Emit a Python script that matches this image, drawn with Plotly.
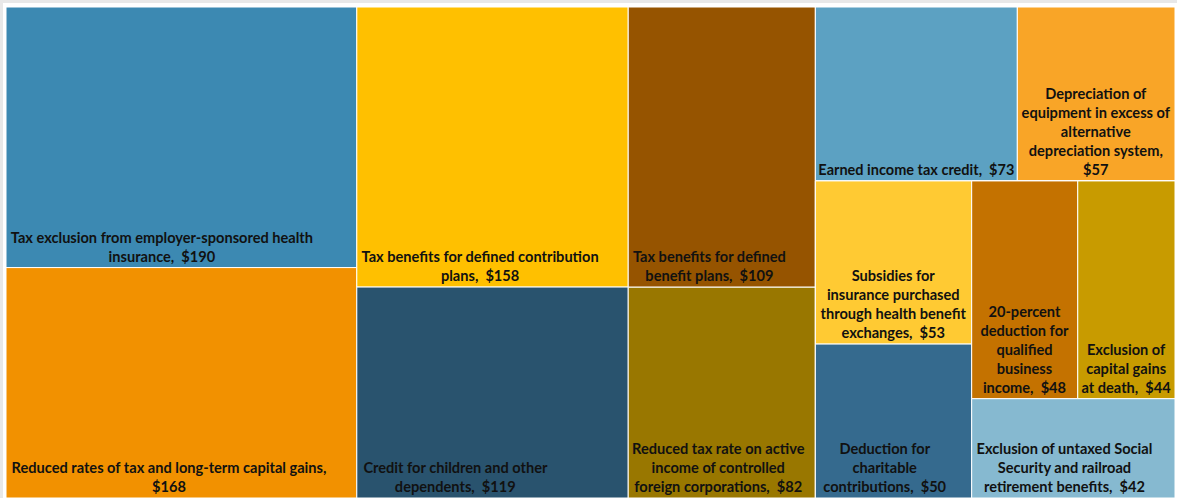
import plotly.graph_objects as go

# ---- data (values in $ billions) ----
categories = [
    "Tax exclusion from employer-sponsored health<br>insurance,",
    "Reduced rates of tax and long-term capital gains,<br>",
    "Tax benefits for defined contribution<br>plans,",
    "Credit for children and other<br>dependents,",
    "Tax benefits for defined<br>benefit plans,",
    "Reduced tax rate on active<br>income of controlled<br>foreign corporations,",
    "Earned income tax credit,",
    "Depreciation of<br>equipment in excess of<br>alternative<br>depreciation system,<br>",
    "Subsidies for<br>insurance purchased<br>through health benefit<br>exchanges,",
    "Deduction for<br>charitable<br>contributions,",
    "20-percent<br>deduction for<br>qualified<br>business<br>income,",
    "Exclusion of<br>capital gains<br>at death,",
    "Exclusion of untaxed Social<br>Security and railroad<br>retirement benefits,",
]
values = [190, 168, 158, 119, 109, 82, 73, 57, 53, 50, 48, 44, 42]
colors = ["#3C89B2", "#F29100", "#FFC000", "#29536E", "#965400", "#997700",
          "#5CA1C2", "#F9A527", "#FFCA33", "#356A8E", "#C47200", "#C89B00", "#86B9D0"]
# invisible trailing padding (non-breaking spaces) that keeps each label block
# toward the left of its tile while its lines stay centred on each other
label_pad = [11, 7, 7, 21, 7, 2, 0, 0, 0, 5, 0, 0, 5]

# layout grouping of the tiles (structure only)
leaf_groups = ["c1", "c1", "c2", "c2", "c3", "c3", "r1", "r1", "k1", "k1", "m1", "m1", "k2"]
group_ids = ["root", "c1", "c2", "c3", "c4", "r1", "r2", "k1", "k2", "m1"]
group_parents = ["", "root", "root", "root", "root", "c4", "c4", "r2", "r2", "k2"]

ids, labels, parents, vals, cols, texts = [], [], [], [], [], []
for g, p in zip(group_ids, group_parents):
    ids.append(g); labels.append(" "); parents.append(p); vals.append(0)
    cols.append("#ffffff"); texts.append("")
for i, (c, v, col, g, n) in enumerate(zip(categories, values, colors, leaf_groups, label_pad)):
    ids.append(f"leaf{i}")
    labels.append(c.replace("<br>", " ").strip())
    parents.append(g)
    vals.append(v)
    cols.append(col)
    sep = "" if c.endswith("<br>") else "\u00a0 "
    raw = f"{c}{sep}${v}"
    pad = "\u00a0" * n
    texts.append("<br>".join(line + pad for line in raw.split("<br>")))

W, H = 1177, 498
ml, mr, mt, mb = 6, 2, 7, 0

fig = go.Figure(go.Treemap(
    ids=ids, labels=labels, parents=parents, values=vals,
    branchvalues="remainder", sort=False,
    text=texts, texttemplate="%{text}", textinfo="text",
    textposition="bottom center",
    textfont=dict(family="Lato", size=14.6, color="#111111", weight="bold"),
    marker=dict(colors=cols, line=dict(color="#ffffff", width=1),
                pad=dict(t=0, l=0, r=0, b=0), depthfade=False),
    tiling=dict(packing="slice-dice", pad=0),
    pathbar=dict(visible=False),
    hoverinfo="skip",
))

pw, ph = W - ml - mr, H - mt - mb
fig.update_layout(
    width=W, height=H,
    margin=dict(l=ml, r=mr, t=mt, b=mb),
    paper_bgcolor="#ffffff",
    shapes=[
        dict(type="rect", xref="paper", yref="paper", x0=-ml / pw, x1=(W - ml) / pw,
             y0=1 + (mt - 3) / ph, y1=1 + mt / ph, fillcolor="#e8e8e8", line_width=0),
        dict(type="rect", xref="paper", yref="paper", x0=-ml / pw, x1=-(ml - 3) / pw,
             y0=-mb / ph, y1=1 + mt / ph, fillcolor="#e8e8e8", line_width=0),
    ],
)
fig.write_html("out.html", config={"displayModeBar": False},
               post_script="document.body.style.margin='0';document.body.style.overflow='hidden';")
